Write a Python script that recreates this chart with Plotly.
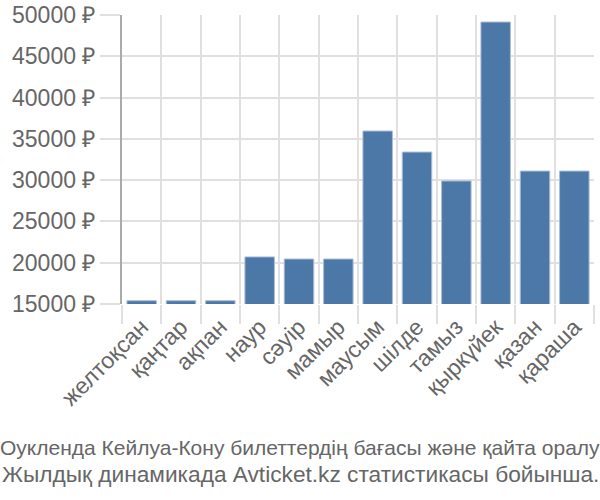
import plotly.graph_objects as go

months = ["желтоқсан", "қаңтар", "ақпан", "наур", "сәуір", "мамыр",
          "маусым", "шілде", "тамыз", "қыркүйек", "қазан", "қараша"]
prices = [15400, 15400, 15400, 20700, 20450, 20450,
          35950, 33400, 29900, 49150, 31100, 31100]
y_ticks = [15000, 20000, 25000, 30000, 35000, 40000, 45000, 50000]
y_tick_labels = [f"{v} ₽" for v in y_ticks]
title_lines = ["Оукленда Кейлуа-Кону билеттердің бағасы және қайта оралу",
               "Жылдық динамикада Avticket.kz статистикасы бойынша."]

W, H = 600, 500
L, R, T, B = 122, 6, 15, 196
pw, ph = W - L - R, H - T - B

def px_x(x):
    return (x - L) / pw

def px_y(y):
    return (H - B - y) / ph

fig = go.Figure(go.Bar(
    x=months, y=prices,
    marker=dict(color="#4c78a8", line=dict(color="#a9bdd6", width=1)),
))

fig.update_layout(
    width=W, height=H,
    margin=dict(l=L, r=R, t=T, b=B, autoexpand=False),
    paper_bgcolor="white", plot_bgcolor="white",
    font=dict(family="Liberation Sans, Arial, sans-serif", size=23, color="#666666"),
    bargap=0.25,
    showlegend=False,
    annotations=[
        dict(text=title_lines[0], xref="paper", yref="paper",
             x=px_x(300), y=px_y(447), xanchor="center", yanchor="middle",
             showarrow=False, font=dict(size=21, color="#666666")),
        dict(text=title_lines[1], xref="paper", yref="paper",
             x=px_x(300), y=px_y(474), xanchor="center", yanchor="middle",
             showarrow=False, font=dict(size=22.7, color="#666666")),
    ],
)
fig.update_xaxes(
    tickangle=-45, tickson="boundaries", ticks="outside", ticklen=19,
    tickcolor="#e0e0e0", tickwidth=2, showgrid=True, gridcolor="#e0e0e0", gridwidth=2,
    showline=False, tickfont=dict(size=23), automargin=False, ticklabelstandoff=4,
)
fig.update_yaxes(
    range=[15000, 50000], tickvals=y_ticks, ticktext=y_tick_labels,
    ticks="outside", ticklen=20, tickcolor="#e0e0e0", tickwidth=2,
    showgrid=True, gridcolor="#e0e0e0", gridwidth=2,
    showline=True, linecolor="#aaaaaa", linewidth=2, zeroline=False,
    tickfont=dict(size=23), automargin=False,
)

fig.write_html(
    "out.html",
    config={"displayModeBar": False},
    post_script="document.body.style.margin='0';document.body.style.overflow='hidden';",
)
